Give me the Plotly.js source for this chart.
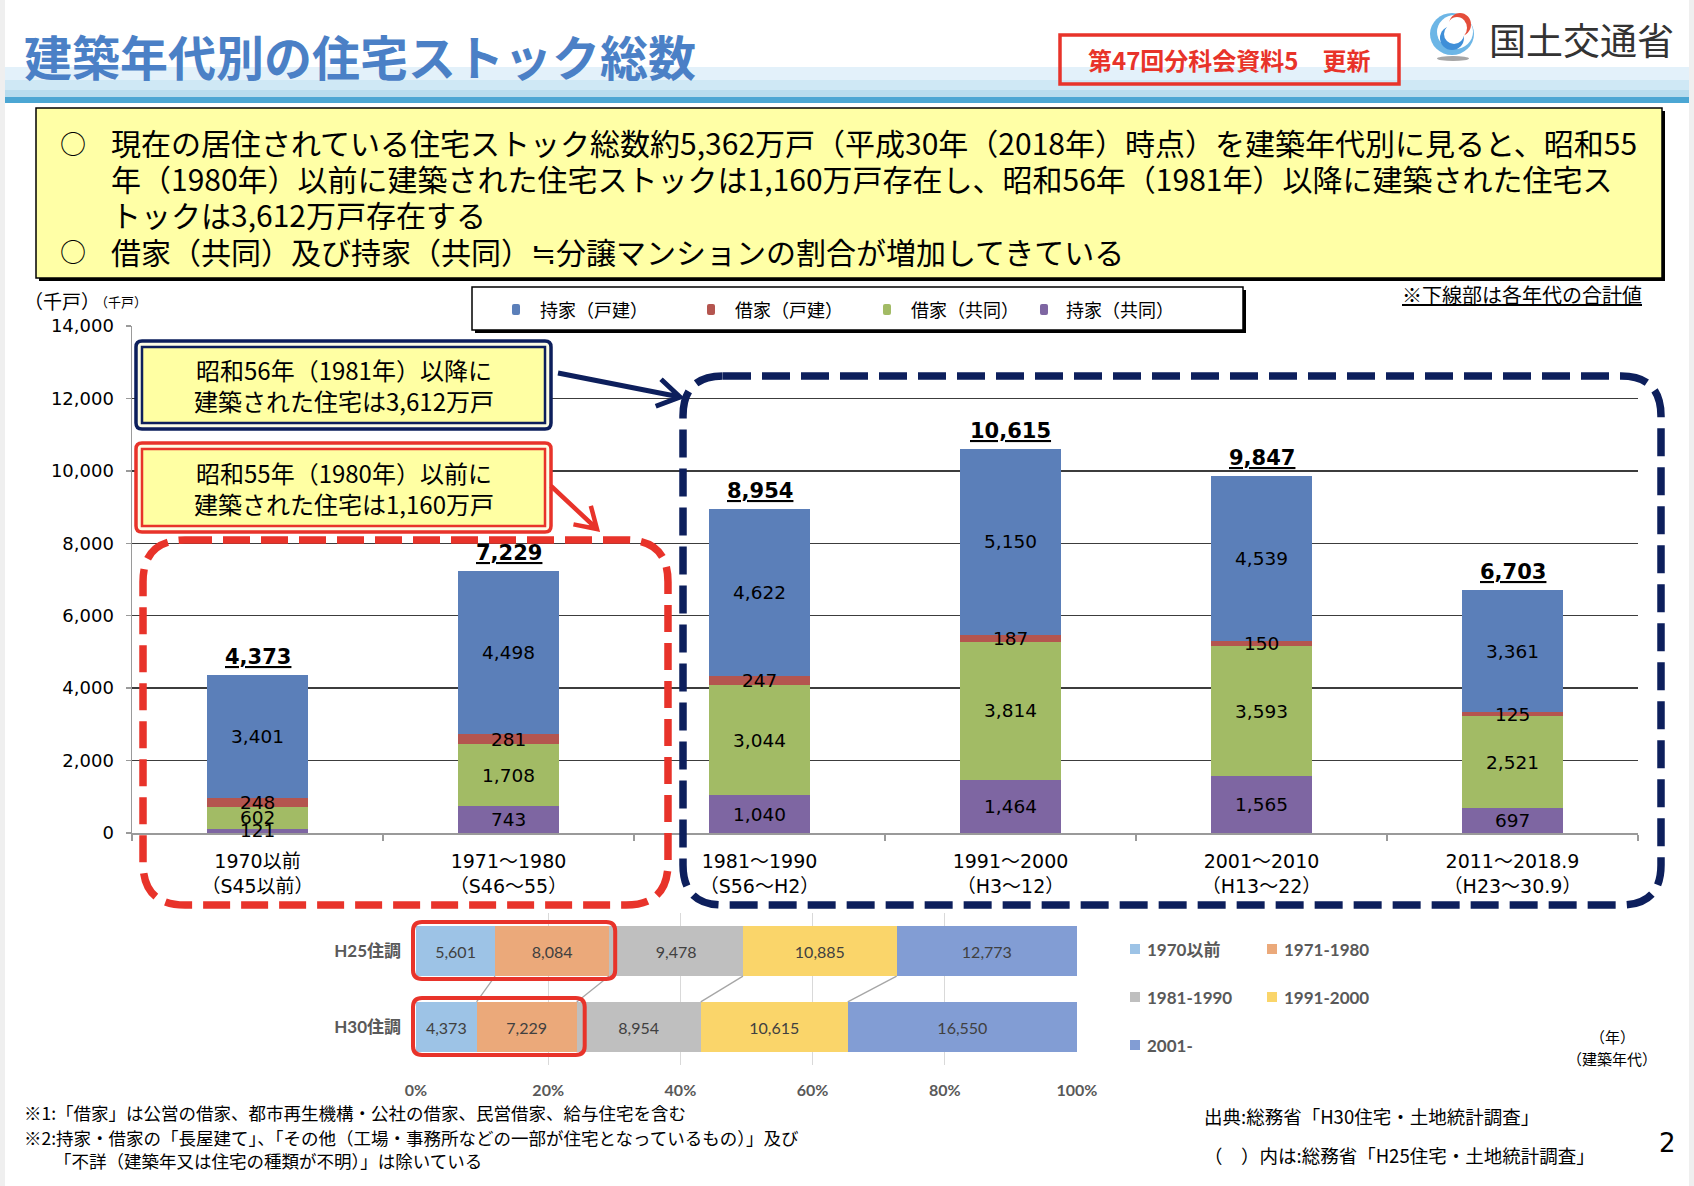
<!DOCTYPE html>
<html><head><meta charset="utf-8">
<script src="https://cdn.plot.ly/plotly-3.0.1.min.js"></script>
<style>html,body{margin:0;padding:0;background:#fff;overflow:hidden}#chart{width:1694px;height:1186px}</style>
</head><body><div id="chart"></div>
<script>
// ---------- data ----------
const categories = ['1970以前','1971～1980','1981～1990','1991～2000','2001～2010','2011～2018.9'];
const categoryNotes = ['（S45以前）','（S46～55）','（S56～H2）','（H3～12）','（H13～22）','（H23～30.9）'];
const mochiKyodo  = [121, 743, 1040, 1464, 1565, 697];    // 持家（共同）
const shakuKyodo  = [602, 1708, 3044, 3814, 3593, 2521];  // 借家（共同）
const shakuKodate = [248, 281, 247, 187, 150, 125];       // 借家（戸建）
const mochiKodate = [3401, 4498, 4622, 5150, 4539, 3361]; // 持家（戸建）
const totals = [4373, 7229, 8954, 10615, 9847, 6703];
const seriesNames = ['持家（共同）','借家（共同）','借家（戸建）','持家（戸建）'];
const seriesColors = ['#7E66A2','#A2BB65','#B4554F','#5B7FB9'];
const yTicks = [0,2000,4000,6000,8000,10000,12000,14000];

const surveys = ['H25住調','H30住調'];
const eraNames = ['1970以前','1971-1980','1981-1990','1991-2000','2001-'];
const h25 = [5601, 8084, 9478, 10885, 12773];
const h30 = [4373, 7229, 8954, 10615, 16550];
const eraColors = ['#9DC3E6','#EBA97A','#BFBFBF','#FAD56A','#829DD4'];
const pctTicks = [0,20,40,60,80,100];

// ---------- helpers ----------
const W = 1694, H = 1186;
const X = x => x / W, Y = y => 1 - y / H;
const NUM = 'DejaVu Sans, Noto Sans CJK JP, sans-serif';
const CJK = 'Noto Sans CJK JP, sans-serif';
const LATO = 'Lato, Noto Sans CJK JP, sans-serif';
const fmt = n => n.toLocaleString('en-US');
const P = (x, y) => X(x).toFixed(5) + ',' + Y(y).toFixed(5);

const shapes = [];
const ann = [];
function S(o) { shapes.push(Object.assign({xref:'paper', yref:'paper', layer:'above'}, o)); }
function R(x0, y0, x1, y1, fill, lc, lw) {
  S({type:'rect', x0:X(x0), x1:X(x1), y0:Y(y1), y1:Y(y0), fillcolor:fill,
     line:{color:lc || 'rgba(0,0,0,0)', width:lw || 0}});
}
function C(x0, y0, x1, y1, fill) {
  S({type:'circle', x0:X(x0), x1:X(x1), y0:Y(y1), y1:Y(y0), fillcolor:fill, line:{width:0}});
}
function rr(x0, y0, x1, y1, r) {
  return 'M' + P(x0 + r, y0) + ' L' + P(x1 - r, y0) + ' Q' + P(x1, y0) + ' ' + P(x1, y0 + r) +
    ' L' + P(x1, y1 - r) + ' Q' + P(x1, y1) + ' ' + P(x1 - r, y1) +
    ' L' + P(x0 + r, y1) + ' Q' + P(x0, y1) + ' ' + P(x0, y1 - r) +
    ' L' + P(x0, y0 + r) + ' Q' + P(x0, y0) + ' ' + P(x0 + r, y0) + ' Z';
}
function arrowPath(x1, y1, x2, y2, len, ang) {
  const dx = x2 - x1, dy = y2 - y1, L = Math.hypot(dx, dy), ux = dx / L, uy = dy / L;
  const a = ang * Math.PI / 180, c = Math.cos(a), s = Math.sin(a);
  const h1x = x2 - len * (ux * c - uy * s), h1y = y2 - len * (uy * c + ux * s);
  const h2x = x2 - len * (ux * c + uy * s), h2y = y2 - len * (uy * c - ux * s);
  return 'M' + P(x1, y1) + ' L' + P(x2, y2) + ' M' + P(h1x, h1y) + ' L' + P(x2, y2) + ' L' + P(h2x, h2y);
}
function T(x, y, text, size, o) {
  o = o || {};
  ann.push({xref:'paper', yref:'paper', x:X(x), y:Y(y), text:text, showarrow:false,
    xanchor:o.anchor || 'left', yanchor:'middle',
    font:{family:o.family || CJK, size:size, color:o.color || '#000', weight:o.weight || 'normal'}});
}

// ---------- page decorations ----------
R(0, 0, 5, H, '#EFEFEF');
R(1689, 0, W, H, '#EFEFEF');
R(5, 67, 1689, 80, '#E3F1FA');
R(5, 80, 1689, 90, '#CFE8F5');
R(5, 90, 1689, 97, '#B7DCEE');
R(5, 97, 1689, 103, '#4BA6D3');
T(22, 55, '建築年代別の住宅ストック総数', 48, {color:'#4B80C6', weight:'bold'});
S({type:'rect', x0:X(1060), x1:X(1399), y0:Y(84), y1:Y(35), fillcolor:'rgba(0,0,0,0)', line:{color:'#E8332A', width:3.5}});
T(1229, 59, '第47回分科会資料5　更新', 24, {anchor:'center', color:'#E8332A', weight:'bold'});
// logo
C(1430, 13, 1474, 55, '#6DB6E6');
C(1437, 15, 1473, 49, '#FFFFFF');
C(1440, 26, 1464, 50, '#3F8FD8');
C(1444, 24, 1464, 44, '#FFFFFF');
C(1449, 13, 1471, 36, '#E44D3A');
C(1447, 17, 1467, 39, '#FFFFFF');
C(1437, 56, 1469, 61, '#A6A6A6');
T(1487, 39, '国土交通省', 37, {color:'#333333'});

// yellow summary box
R(39, 111, 1665, 281, '#000000');
R(36, 108, 1662, 278, '#FFFFA6', '#000000', 1.5);
const sumLines = [
  '現在の居住されている住宅ストック総数約5,362万戸（平成30年（2018年）時点）を建築年代別に見ると、昭和55',
  '年（1980年）以前に建築された住宅ストックは1,160万戸存在し、昭和56年（1981年）以降に建築された住宅ス',
  'トックは3,612万戸存在する',
  '借家（共同）及び持家（共同）≒分譲マンションの割合が増加してきている'
];
const sumY = [142, 178, 214, 251];
sumLines.forEach((t, i) => T(109, sumY[i], t, 30));
T(73, 142, '○', 26, {anchor:'center'});
T(73, 251, '○', 26, {anchor:'center'});

// units
T(22, 300, '（千戸）', 19);
T(93, 301, '（千戸）', 13);
T(1644, 294, '<u>※下線部は各年代の合計値</u>', 20, {anchor:'right'});

// legend box (manual)
R(475, 290, 1246, 333, '#000000');
R(472, 287, 1243, 330, '#FFFFFF', '#000000', 1.5);
const legendOrder = [3, 2, 1, 0];
const legMarkX = [512, 707, 883, 1040];
const legTextX = [538, 733, 909, 1064];
legendOrder.forEach((si, k) => {
  S({type:'path', path:rr(legMarkX[k], 304, legMarkX[k] + 8, 315, 2), fillcolor:seriesColors[si], line:{width:0}});
  T(legTextX[k], 309, seriesNames[si], 18);
});

// call-out boxes
S({type:'path', path:rr(136, 341, 551, 429, 6), fillcolor:'#FDFDE6', line:{color:'#0D1F5C', width:3.5}});
R(142, 347, 545, 423, '#FFFFA3', '#0D1F5C', 2.5);
T(344, 369, '昭和56年（1981年）以降に', 24, {anchor:'center'});
T(344, 401, '建築された住宅は3,612万戸', 24, {anchor:'center'});
S({type:'path', path:rr(136, 443, 551, 532, 6), fillcolor:'#FDFDE6', line:{color:'#E8332A', width:3.5}});
R(142, 449, 545, 526, '#FFFFA3', '#E8332A', 2.5);
T(344, 472, '昭和55年（1980年）以前に', 24, {anchor:'center'});
T(344, 503, '建築された住宅は1,160万戸', 24, {anchor:'center'});
// arrows
S({type:'path', path:arrowPath(558, 373, 680, 397, 26, 32), fillcolor:'rgba(0,0,0,0)', line:{color:'#0D1F5C', width:5}});
S({type:'path', path:arrowPath(551, 486, 597, 529, 24, 32), fillcolor:'rgba(0,0,0,0)', line:{color:'#E8332A', width:4.5}});
// dashed frames
S({type:'path', path:rr(143, 540, 668, 905, 42), fillcolor:'rgba(0,0,0,0)', line:{color:'#E8332A', width:7.5, dash:'27px,11px'}});
S({type:'path', path:rr(683, 376, 1661, 905, 40), fillcolor:'rgba(0,0,0,0)', line:{color:'#0D1F5C', width:7.5, dash:'28px,11px'}});

// ---------- main stacked bars ----------
const stack = [mochiKyodo, shakuKyodo, shakuKodate, mochiKodate];
const traces = stack.map((v, i) => ({
  type:'bar', x:categories, y:v, name:seriesNames[i], marker:{color:seriesColors[i], line:{width:0}},
  xaxis:'x', yaxis:'y', hoverinfo:'skip', showlegend:false
}));
categories.forEach((c, ci) => {
  let cum = 0;
  stack.forEach(v => {
    const val = v[ci];
    ann.push({xref:'x', yref:'y', x:c, y:cum + val / 2, text:fmt(val), showarrow:false,
      font:{family:NUM, size:18.5, color:'#000'}});
    cum += val;
  });
  ann.push({xref:'x', yref:'y', x:c, y:totals[ci], yanchor:'bottom', yshift:4,
    text:'<b><u>' + fmt(totals[ci]) + '</u></b>', showarrow:false,
    font:{family:NUM, size:21, color:'#000'}});
});

// ---------- bottom 100% bars ----------
const sums = [h25.reduce((a, b) => a + b, 0), h30.reduce((a, b) => a + b, 0)];
eraNames.forEach((n, i) => {
  traces.push({
    type:'bar', orientation:'h', y:surveys, x:[h25[i] / sums[0] * 100, h30[i] / sums[1] * 100],
    text:[fmt(h25[i]), fmt(h30[i])], textposition:'inside', insidetextanchor:'middle', textangle:0,
    constraintext:'none',
    textfont:{family:LATO, size:16, color:'#404040'}, insidetextfont:{family:LATO, size:16, color:'#404040'},
    marker:{color:eraColors[i], line:{width:0}}, width:0.66, name:n,
    xaxis:'x2', yaxis:'y2', hoverinfo:'skip', showlegend:false
  });
});
// connecting lines between the two survey bars
let c25 = 0, c30 = 0;
const cum25 = [], cum30 = [];
h25.forEach((v, i) => { c25 += v / sums[0] * 100; c30 += h30[i] / sums[1] * 100; cum25.push(c25); cum30.push(c30); });
for (let i = 0; i < 4; i++) {
  shapes.push({type:'line', xref:'x2', yref:'y2', x0:cum25[i], y0:0.33, x1:cum30[i], y1:0.67,
    line:{color:'#A6A6A6', width:1.3}, layer:'above'});
}
// red highlight around pre-1981 segments
const bx = v => 416 + v * 6.61;
S({type:'path', path:rr(413, 922, bx(cum25[1]) + 6, 979, 9), fillcolor:'rgba(0,0,0,0)', line:{color:'#E8332A', width:4}});
S({type:'path', path:rr(413, 998, bx(cum30[1]) + 8, 1055, 9), fillcolor:'rgba(0,0,0,0)', line:{color:'#E8332A', width:4}});
// bottom legend
const blX = [1130, 1267, 1130, 1267, 1130];
const blY = [949, 949, 997, 997, 1045];
eraNames.forEach((n, i) => {
  R(blX[i], blY[i] - 5, blX[i] + 10, blY[i] + 5, eraColors[i]);
  T(blX[i] + 15, blY[i], '<b>' + n + '</b>', 17, {family:LATO, color:'#595959'});
});
T(1612, 1036, '（年）', 15, {anchor:'center'});
T(1612, 1058, '（建築年代）', 15, {anchor:'center'});

// footnotes
T(22, 1112, '※1:「借家」は公営の借家、都市再生機構・公社の借家、民営借家、給与住宅を含む', 17.5);
T(22, 1137, '※2:持家・借家の「長屋建て」、「その他（工場・事務所などの一部が住宅となっているもの）」及び', 17.5);
T(52, 1160, '「不詳（建築年又は住宅の種類が不明）」は除いている', 17.5);
T(1202, 1116, '出典:総務省「H30住宅・土地統計調査」', 18.5);
T(1202, 1155, '（　）内は:総務省「H25住宅・土地統計調査」', 18.5);
T(1667, 1143, '2', 26, {anchor:'center', family:NUM});

// ---------- layout ----------
const layout = {
  width:W, height:H, margin:{l:0, r:0, t:0, b:0, pad:0},
  paper_bgcolor:'#FFFFFF', plot_bgcolor:'rgba(0,0,0,0)',
  barmode:'stack', bargap:0.6, showlegend:false,
  font:{family:CJK, color:'#000'},
  xaxis:{domain:[X(132), X(1638)], anchor:'y', type:'category',
    tickvals:categories, ticktext:categories.map((c, i) => c + '<br>' + categoryNotes[i]),
    tickangle:0, tickfont:{family:NUM, size:19, color:'#000'},
    ticks:'outside', tickson:'boundaries', ticklen:6, tickcolor:'#9A9A9A', tickwidth:1.5,
    ticklabelstandoff:10,
    showline:true, linecolor:'#9A9A9A', linewidth:2, showgrid:false, zeroline:false, fixedrange:true},
  yaxis:{domain:[Y(833), Y(326)], anchor:'x', range:[0, 14000], tickvals:yTicks, tickformat:',d',
    tickfont:{family:NUM, size:18, color:'#000'},
    ticks:'outside', ticklen:5, tickcolor:'#9A9A9A', tickwidth:1.5, ticklabelstandoff:8,
    showline:true, linecolor:'#9A9A9A', linewidth:1.5,
    showgrid:true, gridcolor:'#3C3C3C', gridwidth:1.5, zeroline:false, fixedrange:true},
  xaxis2:{domain:[X(416), X(1077)], anchor:'y2', range:[0, 100], tickvals:pctTicks,
    ticktext:pctTicks.map(v => '<b>' + v + '%</b>'),
    tickfont:{family:LATO, size:16, color:'#595959'}, ticks:'', ticklabelstandoff:14,
    showgrid:true, gridcolor:'#D9D9D9', gridwidth:1, showline:false, zeroline:false, fixedrange:true},
  yaxis2:{domain:[Y(1065), Y(913)], anchor:'x2', type:'category', autorange:'reversed',
    tickvals:surveys, ticktext:surveys.map(s => '<b>' + s + '</b>'),
    tickfont:{family:LATO, size:17, color:'#595959'}, ticks:'', ticklabelstandoff:14,
    showgrid:false, showline:false, zeroline:false, fixedrange:true},
  shapes:shapes, annotations:ann
};
Plotly.newPlot('chart', traces, layout, {displayModeBar:false, staticPlot:true});
</script></body></html>
